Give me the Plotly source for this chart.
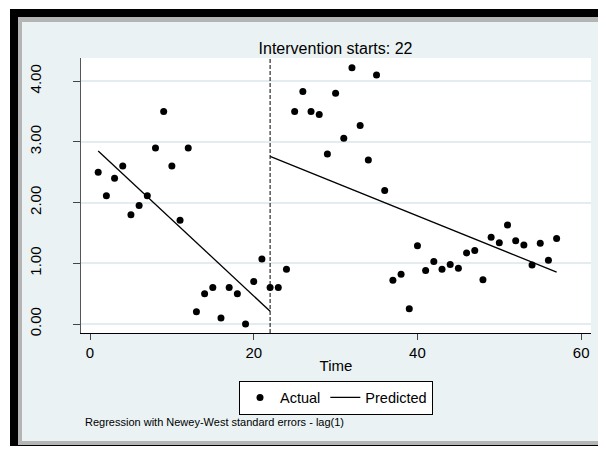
import plotly.graph_objects as go

# ---- data ----
time = list(range(1, 58))
actual = [2.50, 2.11, 2.40, 2.60, 1.80, 1.95, 2.11, 2.90, 3.50, 2.60,
          1.71, 2.90, 0.20, 0.50, 0.60, 0.10, 0.60, 0.50, 0.00, 0.70,
          1.07, 0.60, 0.60, 0.90, 3.50, 3.83, 3.50, 3.45, 2.80, 3.80,
          3.06, 4.22, 3.27, 2.70, 4.10, 2.20, 0.72, 0.82, 0.25, 1.29,
          0.88, 1.03, 0.90, 0.98, 0.92, 1.17, 1.21, 0.73, 1.43, 1.34,
          1.63, 1.37, 1.30, 0.97, 1.33, 1.05, 1.41]
intervention = 22
pre_t = [1, 22]
pre_pred = [2.85, 0.21]
post_t = [22, 57]
post_pred = [2.76, 0.855]
x_ticks = [0, 20, 40, 60]
y_ticks = [0, 1, 2, 3, 4]

# ---- layout geometry (screen pixels; page body has an 8px margin) ----
OFF = 8
W, H = 606 - 2 * OFF, 454 - 2 * OFF
L, R, T, B = 81, 591, 58, 333   # plot area edges in screen px
PW, PH = R - L, B - T


def px(x):
    return (x - L) / PW


def py(y):
    return (B - y) / PH


BG = "#eaf2f3"
FONT = "Liberation Sans, Arial, sans-serif"

fig = go.Figure()
fig.add_trace(go.Scatter(
    x=time, y=actual, mode="markers", name="Actual",
    marker=dict(color="black", size=7, symbol="circle"),
))
fig.add_trace(go.Scatter(
    x=pre_t + [None] + post_t, y=pre_pred + [None] + post_pred,
    mode="lines", name="Predicted", connectgaps=False,
    line=dict(color="black", width=1.3),
))

shapes = [
    # black outer frame
    dict(type="rect", xref="paper", yref="paper", x0=px(10), x1=px(620),
         y0=py(446), y1=py(9), fillcolor="black", line=dict(width=0), layer="below"),
    # gray bevel
    dict(type="rect", xref="paper", yref="paper", x0=px(18), x1=px(620),
         y0=py(445), y1=py(17), fillcolor="#b4b4b4", line=dict(width=0), layer="below"),
    # inner background
    dict(type="rect", xref="paper", yref="paper", x0=px(22), x1=px(620),
         y0=py(441), y1=py(22), fillcolor=BG, line=dict(width=0), layer="below"),
    # plot region
    dict(type="rect", xref="paper", yref="paper", x0=0, x1=1, y0=0, y1=1,
         fillcolor="white", line=dict(width=0), layer="below"),
    # intervention line
    dict(type="line", xref="x", yref="paper", x0=intervention, x1=intervention,
         y0=0, y1=1, line=dict(color="black", width=1, dash="4px,2px")),
]

fig.update_layout(
    width=W, height=H,
    margin=dict(l=L - OFF, r=W + OFF - R, t=T - OFF, b=H + OFF - B, autoexpand=False),
    paper_bgcolor="white", plot_bgcolor="white",
    font=dict(family=FONT, color="black", size=15),
    shapes=shapes,
    title=dict(text="Intervention starts: 22", x=px(335.5), xref="paper",
               xanchor="center", y=1 - (48.3 - OFF) / H, yref="container",
               yanchor="middle", font=dict(size=16, color="black")),
    showlegend=True,
    legend=dict(orientation="h", x=px(336), xanchor="center", y=py(380.5), yanchor="top",
                bgcolor="white", bordercolor="black", borderwidth=1,
                font=dict(size=14.5, color="black")),
    annotations=[dict(text="Regression with Newey-West standard errors - lag(1)",
                      xref="paper", yref="paper", x=px(83), y=py(421.7),
                      xanchor="left", yanchor="middle", showarrow=False,
                      font=dict(size=11, color="black"))],
)

fig.update_xaxes(
    range=[-1.1, 61.2], tickvals=x_ticks, ticks="outside", ticklen=6,
    tickcolor="#444", showgrid=False, zeroline=False,
    showline=True, linecolor="black", linewidth=1,
    tickfont=dict(size=15), title=dict(text="Time", font=dict(size=15), standoff=0),
)
fig.update_yaxes(
    range=[-0.148, 4.38], tickvals=y_ticks, tickformat=".2f", ticks="outside",
    ticklen=7, tickcolor="#444", tickangle=-90, ticklabelstandoff=26,
    showgrid=True, gridcolor="#e3ecee", gridwidth=1.5, zeroline=False,
    showline=True, linecolor="#555", linewidth=1, tickfont=dict(size=15),
)

fig.write_html("out.html")
